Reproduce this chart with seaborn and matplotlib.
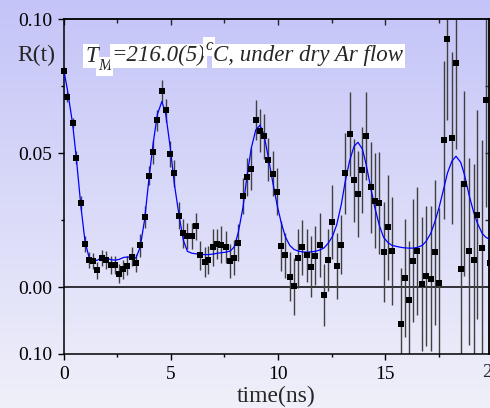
import numpy as np
import pandas as pd
import matplotlib
matplotlib.use("Agg")
import matplotlib.pyplot as plt
from matplotlib.transforms import blended_transform_factory
import seaborn as sns

# Measured time-differential perturbed angular correlation ratio R(t)
time_ns = [0.00, 0.16, 0.41, 0.58, 0.80, 0.99, 1.19, 1.38, 1.56, 1.80,
           1.97, 2.19, 2.39, 2.58, 2.78, 2.96, 3.20, 3.37, 3.57, 3.77,
           3.97, 4.17, 4.37, 4.58, 4.76, 4.97, 5.16, 5.39, 5.58, 5.77,
           5.98, 6.16, 6.37, 6.57, 6.75, 6.97, 7.17, 7.36, 7.56, 7.77,
           7.96, 8.15, 8.37, 8.55, 8.75, 8.96, 9.16, 9.35, 9.54, 9.75,
           9.96, 10.15, 10.34, 10.55, 10.75, 10.94, 11.14, 11.34, 11.54, 11.74,
           11.95, 12.15, 12.33, 12.54, 12.74, 12.96, 13.13, 13.34, 13.55, 13.73,
           13.94, 14.12, 14.33, 14.51, 14.73, 14.93, 15.14, 15.33, 15.73, 15.92,
           16.13, 16.32, 16.51, 16.73, 16.91, 17.13, 17.33, 17.53, 17.73, 17.91,
           18.12, 18.31, 18.53, 18.70, 18.93, 19.13, 19.30, 19.53, 19.71, 19.90]

r_meas = [0.0805, 0.0709, 0.0612, 0.0483, 0.0314, 0.0160, 0.0102, 0.0096, 0.0063, 0.0107,
          0.0101, 0.0083, 0.0083, 0.0049, 0.0066, 0.0080, 0.0113, 0.0089, 0.0155, 0.0261,
          0.0416, 0.0505, 0.0622, 0.0732, 0.0659, 0.0496, 0.0424, 0.0266, 0.0200, 0.0190,
          0.0189, 0.0227, 0.0118, 0.0093, 0.0101, 0.0148, 0.0159, 0.0158, 0.0149, 0.0097,
          0.0110, 0.0166, 0.0340, 0.0411, 0.0440, 0.0623, 0.0583, 0.0563, 0.0475, 0.0422,
          0.0356, 0.0153, 0.0118, 0.0039, 0.0002, 0.0107, 0.0148, 0.0118, 0.0076, 0.0116,
          0.0157, -0.0030, 0.0100, 0.0242, 0.0078, 0.0157, 0.0424, 0.0571, 0.0399, 0.0346,
          0.0437, 0.0563, 0.0372, 0.0322, 0.0312, 0.0132, 0.0223, 0.0134, -0.0138, 0.0032,
          -0.0050, 0.0098, 0.0135, 0.0011, 0.0041, 0.0031, 0.0129, 0.0016, 0.0549, 0.0925,
          0.0556, 0.0835, 0.0066, 0.0385, 0.0133, 0.0100, 0.0269, 0.0147, 0.0698, 0.0090]

r_err = [0.0015, 0.0020, 0.0020, 0.0025, 0.0025, 0.0030, 0.0030, 0.0030, 0.0032, 0.0030,
         0.0032, 0.0033, 0.0033, 0.0035, 0.0035, 0.0035, 0.0035, 0.0034, 0.0043, 0.0040,
         0.0037, 0.0045, 0.0040, 0.0040, 0.0044, 0.0047, 0.0050, 0.0050, 0.0053, 0.0050,
         0.0048, 0.0050, 0.0053, 0.0056, 0.0053, 0.0070, 0.0056, 0.0068, 0.0060, 0.0065,
         0.0065, 0.0068, 0.0068, 0.0072, 0.0078, 0.0076, 0.0081, 0.0084, 0.0081, 0.0084,
         0.0087, 0.0093, 0.0084, 0.0090, 0.0106, 0.0110, 0.0103, 0.0100, 0.0115, 0.0110,
         0.0120, 0.0115, 0.0115, 0.0137, 0.0124, 0.0110, 0.0150, 0.0155, 0.0155, 0.0160,
         0.0160, 0.0165, 0.0170, 0.0177, 0.0190, 0.0187, 0.0196, 0.0200, 0.0210, 0.0220,
         0.0220, 0.0230, 0.0240, 0.0250, 0.0260, 0.0270, 0.0270, 0.0280, 0.0295, 0.0300,
         0.0320, 0.0320, 0.0330, 0.0345, 0.0350, 0.0360, 0.0390, 0.0400, 0.0400, 0.0400]

# Fitted perturbation function evaluated at the measurement times
r_fit = [0.0810, 0.0740, 0.0610, 0.0485, 0.0300, 0.0170, 0.0107, 0.0097, 0.0100, 0.0110,
         0.0108, 0.0102, 0.0100, 0.0103, 0.0110, 0.0112, 0.0110, 0.0108, 0.0150, 0.0250,
         0.0400, 0.0535, 0.0645, 0.0692, 0.0645, 0.0520, 0.0385, 0.0262, 0.0175, 0.0133,
         0.0126, 0.0124, 0.0122, 0.0121, 0.0121, 0.0123, 0.0126, 0.0128, 0.0130, 0.0134,
         0.0150, 0.0205, 0.0300, 0.0412, 0.0517, 0.0586, 0.0604, 0.0567, 0.0486, 0.0393,
         0.0305, 0.0240, 0.0188, 0.0155, 0.0140, 0.0134, 0.0131, 0.0130, 0.0131, 0.0133,
         0.0138, 0.0146, 0.0162, 0.0188, 0.0232, 0.0310, 0.0390, 0.0470, 0.0525, 0.0540,
         0.0515, 0.0455, 0.0370, 0.0300, 0.0230, 0.0185, 0.0165, 0.0155, 0.0148, 0.0146,
         0.0145, 0.0145, 0.0148, 0.0155, 0.0170, 0.0200, 0.0245, 0.0300, 0.0365, 0.0425,
         0.0470, 0.0488, 0.0465, 0.0420, 0.0340, 0.0280, 0.0240, 0.0200, 0.0185, 0.0178]

x_ticks = [0, 5, 10, 15, 20]
x_tick_labels = ["0", "5", "10", "15", "20"]
x_minor = [2.5, 7.5, 12.5, 17.5]
y_ticks = [-0.025, 0.0, 0.05, 0.10]
y_tick_labels = ["0.10", "0.00", "0.05", "0.10"]
y_minor = [0.025, 0.075]

df = pd.DataFrame({"t": time_ns, "r": r_meas, "err": r_err, "fit": r_fit})

sns.set_style("ticks")
plt.rcParams["font.family"] = ["Liberation Serif", "DejaVu Serif"]
plt.rcParams["axes.linewidth"] = 1.1

W, H = 490, 408
fig = plt.figure(figsize=(W / 100, H / 100), dpi=100)

# lavender vertical gradient behind everything
bg = fig.add_axes([0, 0, 1, 1], zorder=-10)
top_c = np.array([196, 196, 248]) / 255.0
bot_c = np.array([240, 240, 250]) / 255.0
frac = np.linspace(0, 1, 256)[:, None]
grad = top_c[None, :] * (1 - frac) + bot_c[None, :] * frac
bg.imshow(grad[:, None, :], aspect="auto", extent=[0, 1, 0, 1])
bg.axis("off")

left, right, top, bottom = 63.8, 489.0, 19.0, 354.0
ax = fig.add_axes([left / W, (H - bottom) / H, (right - left) / W, (bottom - top) / H])
ax.set_facecolor("none")
ax.set_xlim(0, 19.85)
ax.set_ylim(-0.025, 0.10)

ax.axhline(0, color="black", lw=1.1, zorder=1)
ax.vlines(df["t"], df["r"] - df["err"], df["r"] + df["err"],
          color="#404040", lw=1.0, zorder=2)
sns.lineplot(data=df, x="t", y="fit", ax=ax, color="#0000ff", lw=0.9,
             sort=False, estimator=None, zorder=3)
sns.scatterplot(data=df, x="t", y="r", ax=ax, marker="s", s=17, color="black",
                edgecolor="black", linewidth=0, zorder=4, clip_on=False)

ax.set_xticks(x_ticks[:-1])
ax.set_xticklabels(x_tick_labels[:-1])
ax.set_xticks(x_minor, minor=True)
ax.set_yticks(y_ticks)
ax.set_yticklabels(y_tick_labels)
ax.set_yticks(y_minor, minor=True)
ax.tick_params(axis="both", which="both", direction="out", top=False, right=False,
               labelsize=14, color="black", labelcolor="black", pad=4)
ax.tick_params(which="major", length=4.5, width=1.0)
ax.tick_params(which="minor", length=2.5, width=1.0)
for sp in ax.spines.values():
    sp.set_visible(True)
    sp.set_color("black")

# the 20 label sits just past the right edge of the axis
trans = blended_transform_factory(ax.transData, ax.transAxes)
ax.text(20, -0.03, "20", transform=trans, ha="center", va="top", fontsize=14,
        clip_on=False)

secx = ax.secondary_xaxis("top")
secx.set_xticks(x_ticks[:-1])
secx.set_xticks(x_minor, minor=True)
secx.tick_params(which="both", direction="in", labeltop=False, width=1.0)
secx.tick_params(which="major", length=4.5)
secx.tick_params(which="minor", length=3)
secy = ax.secondary_yaxis("right")
secy.set_yticks([0.025, 0.05, 0.075])
secy.tick_params(which="both", direction="in", labelright=False, length=3, width=1.0)

ax.set_xlabel("time(ns)", fontsize=17)
ax.xaxis.set_label_coords(0.5, -0.095)
ax.set_ylabel("")
fig.text(36 / W, (H - 61) / H, "R(t)", fontsize=17, ha="center", va="baseline")

# annotation built from runs so sub/superscripts carry their own white boxes
renderer = fig.canvas.get_renderer()
runs = [("T", 0, 16.5), ("M", 9, 11.5), ("=216.0(5)", 0, 16.5), ("o", -11, 12),
        ("C, under dry Ar flow", 0, 16.5)]
x = 85.0
base = 61.5
for s, dy, size in runs:
    txt = fig.text(x / W, (H - (base + dy)) / H, s, fontsize=size, style="italic",
                   ha="left", va="baseline",
                   bbox=dict(facecolor="white", edgecolor="none", pad=1.2))
    bb = txt.get_window_extent(renderer)
    x = bb.x1

fig.savefig("out.png", dpi=100)
